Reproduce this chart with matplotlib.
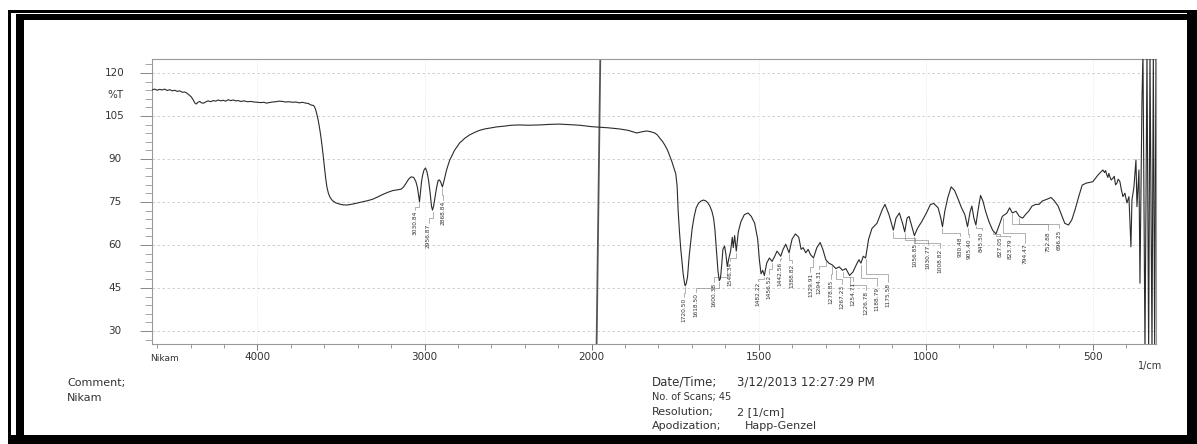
import numpy as np
import matplotlib
matplotlib.use("Agg")
import matplotlib.pyplot as plt
from matplotlib.patches import Rectangle
from matplotlib.ticker import FixedLocator, NullFormatter

# ---------------- data ----------------
wavenumber = [
    4631, 4615, 4600, 4585, 4570, 4555, 4540, 4525, 4510, 4495, 4480, 4465, 4450, 4435, 4420,
    4408, 4396, 4385, 4375, 4366, 4356, 4345, 4335, 4322, 4310, 4295, 4280, 4265, 4250, 4235,
    4220, 4205, 4190, 4175, 4160, 4145, 4130, 4115, 4100, 4080, 4060, 4040, 4020, 4000, 3980,
    3960, 3946, 3930, 3910, 3890, 3870, 3850, 3830, 3810, 3790, 3770, 3750, 3730, 3710, 3695,
    3685, 3675, 3665, 3659, 3652, 3645, 3638, 3630, 3622, 3615, 3608, 3600, 3592, 3584, 3575,
    3565, 3551, 3530, 3509, 3485, 3461, 3430, 3400, 3370, 3340, 3310, 3280, 3252, 3220, 3190,
    3160, 3140, 3125, 3110, 3095, 3080, 3065, 3052, 3042, 3036, 3030, 3024, 3018, 3012, 3003,
    2994, 2985, 2976, 2966, 2958, 2952, 2945, 2937, 2928, 2918, 2910, 2902, 2893, 2885, 2875,
    2868, 2850, 2821, 2790, 2760, 2731, 2700, 2671, 2640, 2611, 2570, 2521, 2480, 2431, 2380,
    2311, 2250, 2192, 2130, 2072, 2030, 2000, 1976, 1950, 1916, 1890, 1865, 1850, 1835, 1822,
    1811, 1803, 1796, 1788, 1781, 1773, 1766, 1760, 1754, 1748, 1744, 1741, 1737, 1733, 1729,
    1726, 1722, 1720, 1717, 1713, 1708, 1703, 1699, 1693, 1687, 1680, 1672, 1665, 1658, 1652,
    1646, 1640, 1635, 1631, 1628, 1625, 1622, 1618, 1615, 1613, 1610, 1607, 1602, 1598, 1594,
    1589, 1584, 1579, 1576, 1572, 1567, 1561, 1553, 1543, 1532, 1522, 1512, 1503, 1498, 1493,
    1488, 1483, 1476, 1468, 1460, 1452, 1445, 1434, 1427, 1419, 1409, 1400, 1390, 1380, 1373,
    1367, 1359, 1352, 1345, 1336, 1326, 1316, 1308, 1299, 1290, 1280, 1269, 1259, 1249, 1239,
    1228, 1218, 1208, 1200, 1194, 1187, 1180, 1171, 1161, 1146, 1130, 1122, 1110, 1097, 1089,
    1079, 1068, 1063, 1056, 1050, 1040, 1034, 1025, 1012, 998, 986, 976, 963, 955, 950,
    943, 934, 924, 914, 903, 893, 883, 875, 867, 862, 856, 850, 844, 836, 829,
    821, 811, 800, 790, 780, 771, 764, 757, 749, 741, 730, 720, 710, 702, 692,
    682, 671, 661, 651, 637, 625, 615, 604, 594, 584, 573, 563, 553, 543, 532,
    520, 500, 485, 470, 465, 462, 458, 455, 452, 449, 445, 440, 436, 432, 428,
    424, 419, 415, 410, 404, 398, 392, 386, 383, 377, 371, 368, 362, 359, 353,
    350, 344, 338, 333, 329, 323, 319, 315, 311,
]
transmittance = [
    114.1, 114.4, 114.0, 114.3, 114.1, 114.4, 113.9, 114.2, 113.8, 114.0, 113.6, 113.8, 113.3, 113.4, 112.9,
    112.3, 111.7, 110.7, 109.6, 109.2, 109.8, 110.1, 109.6, 109.5, 109.9, 110.3, 110.0, 110.4, 110.2, 110.6,
    110.3, 110.5, 110.2, 110.7, 110.4, 110.6, 110.3, 110.4, 110.1, 110.3, 110.0, 110.1, 109.9, 109.8, 109.7,
    109.8, 109.5, 109.7, 109.9, 110.0, 110.2, 110.1, 109.9, 110.0, 109.8, 109.9, 109.6, 109.8, 109.5, 109.4,
    109.0, 108.8, 108.7, 108.3, 107.3, 105.8, 104.0, 101.5, 98.5, 95.5, 92.0, 87.6, 83.5, 80.2, 78.0,
    76.6, 75.5, 74.7, 74.3, 74.0, 74.0, 74.3, 74.7, 75.1, 75.5, 76.0, 76.8, 77.6, 78.4, 79.0,
    79.3, 79.5, 80.3, 81.6, 83.0, 83.8, 83.6, 82.2, 80.0, 77.5, 75.1, 78.5, 82.0, 84.2, 86.2,
    86.9, 85.5, 82.7, 78.0, 73.5, 72.2, 73.8, 76.8, 80.0, 82.6, 82.7, 81.8, 80.3, 82.0, 84.5,
    86.2, 89.5, 93.0, 95.6, 97.2, 98.4, 99.3, 100.0, 100.5, 100.8, 101.2, 101.5, 101.8, 101.9, 101.8,
    101.9, 102.1, 102.2, 102.0, 101.8, 101.5, 101.3, 101.1, 100.9, 100.5, 100.0, 99.1, 99.5, 99.8, 99.5,
    99.1, 98.4, 97.3, 96.2, 94.9, 93.2, 91.0, 89.2, 87.0, 84.8, 80.5, 72.0, 64.5, 58.5, 53.5,
    50.0, 46.8, 45.8, 46.5, 48.8, 56.1, 61.5, 65.8, 70.0, 73.0, 74.6, 75.4, 75.7, 75.4, 74.7,
    73.6, 71.8, 69.4, 65.5, 60.9, 56.0, 51.2, 47.6, 48.2, 50.0, 54.0, 58.5, 59.7, 56.7, 52.5,
    55.5, 57.9, 62.7, 59.1, 63.3, 57.9, 64.6, 68.2, 70.6, 71.2, 70.0, 67.6, 62.1, 54.9, 50.0,
    51.2, 49.4, 53.7, 55.5, 54.3, 56.1, 57.9, 56.1, 58.5, 60.3, 57.3, 62.1, 63.9, 62.7, 58.5,
    59.1, 57.3, 58.5, 56.7, 55.5, 59.1, 60.9, 58.5, 54.9, 53.7, 53.1, 51.8, 52.4, 51.2, 51.8,
    49.4, 50.6, 53.1, 54.9, 53.7, 56.1, 55.5, 62.1, 65.8, 67.6, 72.4, 74.2, 70.6, 65.2, 69.4,
    71.2, 67.0, 64.6, 69.4, 70.0, 65.8, 63.3, 65.8, 68.2, 71.2, 74.2, 74.5, 73.0, 69.4, 66.4,
    71.8, 76.6, 80.3, 79.1, 76.0, 73.0, 70.6, 66.4, 71.8, 73.6, 69.4, 67.0, 71.8, 77.3, 75.4,
    71.8, 68.2, 65.2, 63.9, 67.0, 70.0, 70.6, 71.2, 73.0, 71.2, 71.8, 70.0, 69.4, 70.6, 71.8,
    73.6, 74.2, 74.2, 75.4, 76.0, 76.6, 75.4, 73.6, 70.6, 67.6, 67.0, 68.8, 72.4, 76.6, 80.9,
    81.6, 82.1, 84.4, 86.2, 85.3, 86.0, 84.4, 83.6, 85.0, 83.8, 82.7, 83.3, 84.0, 81.0, 81.6,
    83.0, 82.1, 79.5, 76.9, 78.1, 74.7, 76.9, 59.4, 75.7, 80.3, 89.7, 73.4, 86.2, 46.7, 110.6,
    127.0, 23.0, 127.0, 23.0, 127.0, 23.0, 127.0, 23.0, 127.0,
]

peak_labels = [
    "3030.84", "2956.87", "2868.84",
    "1720.50", "1618.50", "1600.38", "1546.34", "1482.22", "1456.52", "1442.56", "1388.82",
    "1329.91", "1294.31", "1278.85", "1267.23", "1254.71", "1226.78", "1188.79", "1175.58",
    "1056.85", "1030.77", "1008.82", "930.48", "905.40", "845.50", "827.05", "823.79",
    "794.47", "752.88", "696.25",
]
peak_wn = [
    3030, 2952, 2893,
    1720, 1618, 1594, 1567, 1483, 1460, 1434, 1409,
    1336, 1299, 1280, 1269, 1249, 1228, 1194, 1180,
    1097, 1063, 1034, 950, 875, 850, 800, 790,
    770, 741, 720,
]

x_major = [4000, 3000, 2000, 1500, 1000, 500]
y_major = [30, 45, 60, 75, 90, 105, 120]

# ---------------- layout for peak label placement ----------------
label_x = [
    3054, 2976, 2891,
    1724, 1687, 1633, 1587, 1501, 1470, 1437, 1401,
    1345, 1320, 1285, 1252, 1217, 1180, 1145, 1113,
    1033, 994, 957, 898, 870, 833, 778, 747,
    702, 633, 602,
]
label_top = [
    72.2, 67.8, 75.7,
    42.0, 43.5, 47.0, 54.3, 47.6, 50.0, 54.5, 53.7,
    50.6, 51.5, 48.2, 46.4, 47.6, 44.2, 45.8, 47.0,
    60.9, 60.3, 59.1, 63.3, 62.7, 65.2, 63.3, 62.7,
    60.9, 65.2, 65.8,
]

W, H = 1197, 444
fig = plt.figure(figsize=(W / 100, H / 100), dpi=100)
fig.patch.set_facecolor("white")


def fx(px):
    return px / W


def fy(py):
    return 1 - py / H


ax_l, ax_r, ax_t, ax_b = 152, 1156, 59, 344
ax = fig.add_axes([fx(ax_l), fy(ax_b), (ax_r - ax_l) / W, (ax_b - ax_t) / H])


def fwd(w):
    w = np.asarray(w, dtype=float)
    return np.where(w > 2000, 2000 + (w - 2000) / 2.0, w)


def inv(u):
    u = np.asarray(u, dtype=float)
    return np.where(u > 2000, 2000 + 2.0 * (u - 2000), u)


ax.set_xscale("function", functions=(fwd, inv))
ax.set_xlim(4631, 311)
ax.set_ylim(25.5, 124.9)

# grid
for yv in y_major:
    ax.axhline(yv, color="#c8c8c8", lw=0.6, ls=(0, (3, 3)), zorder=0)
for xv in x_major:
    if xv != 2000:
        ax.axvline(xv, color="#dddddd", lw=0.6, ls=(0, (1, 2)), zorder=0)
# dark scan crease near 2000
ax.plot([1974, 1985], [124.9, 25.5], color="#555555", lw=1.3, zorder=1)

# spectrum
ax.plot(wavenumber, transmittance, color="#2b2b2b", lw=0.8, zorder=3)

# peak labels with leader lines
wn_arr = np.array(wavenumber, dtype=float)
tr_arr = np.array(transmittance, dtype=float)
order = np.argsort(wn_arr)
for txt, pw, lx, lt in zip(peak_labels, peak_wn, label_x, label_top):
    yv = float(np.interp(pw, wn_arr[order], tr_arr[order]))
    knee = lt + 0.35 * (yv - lt)
    ax.plot([pw, pw, lx, lx], [yv - 0.5, knee, knee, lt], color="#777777", lw=0.4, zorder=2)
    ax.text(lx, lt - 0.3, txt, rotation=90, ha="center", va="top", fontsize=4.2,
            color="#333333", family=["Liberation Sans Narrow", "DejaVu Sans"])

# spines
for s in ax.spines.values():
    s.set_color("#999999")
    s.set_linewidth(0.8)

# x ticks
ax.xaxis.set_major_locator(FixedLocator(x_major))
ax.set_xticklabels([str(v) for v in x_major])
x_minor = [4600, 4400, 4200, 3800, 3600, 3400, 3200, 2800, 2600, 2400, 2200,
           1900, 1800, 1700, 1600, 1400, 1300, 1200, 1100, 900, 800, 700, 600, 400]
ax.xaxis.set_minor_locator(FixedLocator(x_minor))
ax.xaxis.set_minor_formatter(NullFormatter())
ax.tick_params(axis="x", which="major", direction="out", length=4, width=0.7,
               color="#777777", labelsize=7.5, labelcolor="#333333", pad=2)
ax.tick_params(axis="x", which="minor", direction="out", length=3, width=0.6, color="#888888")

# y ticks
ax.yaxis.set_major_locator(FixedLocator(y_major))
ax.yaxis.set_minor_locator(FixedLocator([v for v in range(27, 124, 3) if v % 15 != 0]))
ax.tick_params(axis="y", which="major", direction="out", length=9, width=0.7,
               color="#888888", labelleft=False)
ax.tick_params(axis="y", which="minor", direction="out", length=5, width=0.6,
               color="#999999")
ytr = ax.get_yaxis_transform()
lab_x = (115 - ax_l) / (ax_r - ax_l)
for yv in y_major:
    ax.text(lab_x, yv, str(yv), transform=ytr, ha="center", va="center",
            fontsize=7.5, color="#333333", clip_on=False)
ax.text(lab_x, 112.5, "%T", transform=ytr, ha="center", va="center",
        fontsize=7.5, color="#333333", clip_on=False)

# texts around
tc = "#333333"
fig.text(fx(150), fy(358), "Nikam", ha="left", va="center", fontsize=6.5, color=tc)
fig.text(fx(1150), fy(366), "1/cm", ha="center", va="center", fontsize=7, color=tc)
fig.text(fx(67), fy(383), "Comment;", ha="left", va="center", fontsize=8, color=tc)
fig.text(fx(67), fy(398), "Nikam", ha="left", va="center", fontsize=8, color=tc)
fig.text(fx(652), fy(382), "Date/Time;", ha="left", va="center", fontsize=8.5, color=tc)
fig.text(fx(737), fy(382), "3/12/2013 12:27:29 PM", ha="left", va="center", fontsize=8.5, color=tc)
fig.text(fx(652), fy(397), "No. of Scans; 45", ha="left", va="center", fontsize=7, color=tc)
fig.text(fx(652), fy(412), "Resolution;", ha="left", va="center", fontsize=8, color=tc)
fig.text(fx(737), fy(412), "2 [1/cm]", ha="left", va="center", fontsize=8, color=tc)
fig.text(fx(652), fy(426), "Apodization;", ha="left", va="center", fontsize=8, color=tc)
fig.text(fx(745), fy(426), "Happ-Genzel", ha="left", va="center", fontsize=8, color=tc)


# black scan frame
def frame_rect(x0, y0, x1, y1):
    fig.add_artist(Rectangle((fx(x0), fy(y1)), (x1 - x0) / W, (y1 - y0) / H,
                             transform=fig.transFigure, facecolor="black",
                             edgecolor="none", zorder=10))


frame_rect(8, 10, 11, 444)
frame_rect(8, 10, 1197, 13)
frame_rect(16, 14, 24, 444)
frame_rect(16, 14, 1197, 20)
frame_rect(1187, 10, 1197, 444)
frame_rect(8, 435, 1197, 444)

fig.savefig("out.png", dpi=100, facecolor="white")
